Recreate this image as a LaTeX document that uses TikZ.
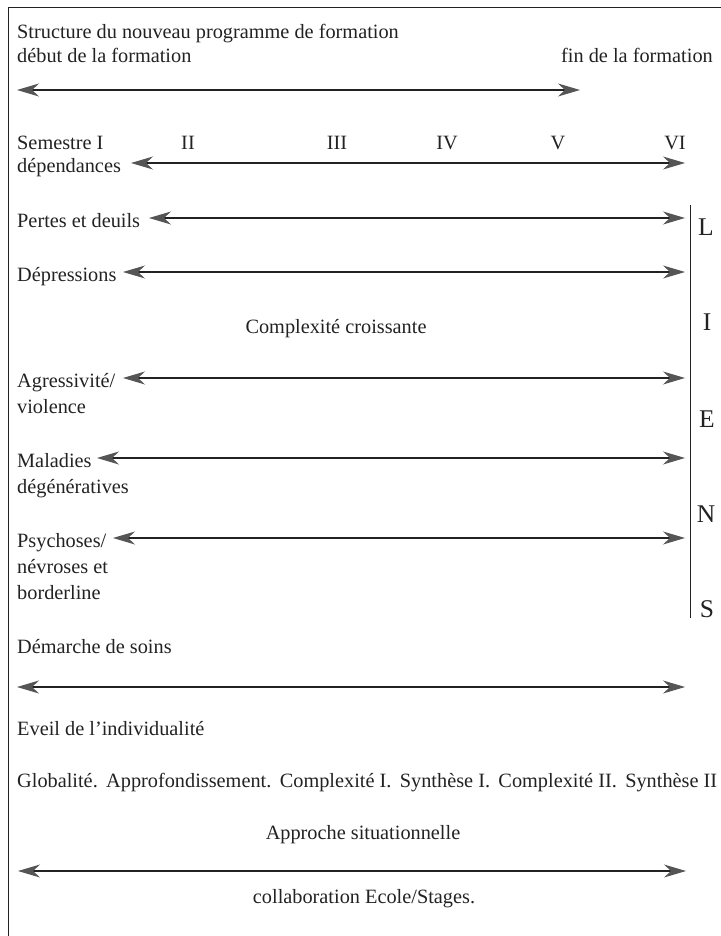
\documentclass[tikz,border=0pt]{standalone}
\usepackage{fontspec}
\setmainfont{Liberation Serif}
\usetikzlibrary{arrows.meta}
\definecolor{ink}{HTML}{222222}
\definecolor{tipgray}{HTML}{555555}
\newcommand{\gapsp}{\hspace{8.4pt}}
\begin{document}
\begin{tikzpicture}[x=1pt,y=-1pt,
  lbl/.style={anchor=base west,inner sep=0pt,text=ink,font=\fontsize{20.3}{24}\selectfont},
  lblc/.style={anchor=base,inner sep=0pt,text=ink,font=\fontsize{20.3}{24}\selectfont},
  lble/.style={anchor=base east,inner sep=0pt,text=ink,font=\fontsize{20.3}{24}\selectfont},
  liens/.style={anchor=base,inner sep=0pt,text=ink,font=\fontsize{25.5}{28}\selectfont},
  graytip/.tip={Stealth[length=22pt,width=13pt,inset=7pt,fill=tipgray,color=tipgray]},
  dbl/.style={draw=ink,line width=1.1pt,{graytip}-{graytip}},
  frame/.style={draw=ink,line width=1pt}
]
\useasboundingbox (0,0) rectangle (720,936);
% frame (cut by the picture's right and bottom edges)
\coordinate (fb) at (8,940);
\coordinate (ftl) at (8,8);
\coordinate (fr) at (725,8);
\draw[frame] (fb) -- (ftl) -- (fr);

% header
\node[lbl] (title) at (17,39) {Structure du nouveau programme de formation};
\node[lbl] (debut) at (17,63) {début de la formation};
\node[lble] (fin) at (713,63) {fin de la formation};
\coordinate (a1l) at (17,90);
\coordinate (a1r) at (580,90);
\draw[dbl] (a1l) -- (a1r);

% semesters
\node[lbl] (sem) at (17,150) {Semestre I};
\node[lblc] (s2) at (188,150) {II};
\node[lblc] (s3) at (337,150) {III};
\node[lblc] (s4) at (447,150) {IV};
\node[lblc] (s5) at (558,150) {V};
\node[lblc] (s6) at (675,150) {VI};
\node[lbl] (dep) at (17,172) {dépendances};
\coordinate (a2l) at (131,163);
\coordinate (a2r) at (685,163);
\draw[dbl] (a2l) -- (a2r);

% themes
\node[lbl] (pertes) at (17,227) {Pertes et deuils};
\coordinate (a3l) at (149,218);
\coordinate (a3r) at (685,218);
\draw[dbl] (a3l) -- (a3r);

\node[lbl] (depr) at (17,281) {Dépressions};
\coordinate (a4l) at (123,272);
\coordinate (a4r) at (685,272);
\draw[dbl] (a4l) -- (a4r);

\node[lblc] (cc) at (336,333) {Complexité croissante};

\node[lbl] (agr) at (17,387) {Agressivité/};
\node[lbl] (vio) at (17,413) {violence};
\coordinate (a5l) at (123,378);
\coordinate (a5r) at (685,378);
\draw[dbl] (a5l) -- (a5r);

\node[lbl] (mal) at (17,467) {Maladies};
\node[lbl] (deg) at (17,493) {dégénératives};
\coordinate (a6l) at (97,458);
\coordinate (a6r) at (685,458);
\draw[dbl] (a6l) -- (a6r);

\node[lbl] (psy) at (17,547) {Psychoses/};
\node[lbl] (nev) at (17,573) {névroses et};
\node[lbl] (bor) at (17,599) {borderline};
\coordinate (a7l) at (113,538);
\coordinate (a7r) at (685,538);
\draw[dbl] (a7l) -- (a7r);

% LIENS
\coordinate (lt) at (690,205);
\coordinate (lb) at (690,618);
\draw[draw=ink,line width=1pt] (lt) -- (lb);
\node[liens] (L) at (706,235) {L};
\node[liens] (I) at (707,330) {I};
\node[liens] (E) at (707,427) {E};
\node[liens] (N) at (706,522) {N};
\node[liens] (S) at (707,617) {S};

% bottom part
\node[lbl] (dem) at (17,653) {Démarche de soins};
\coordinate (a8l) at (17,687);
\coordinate (a8r) at (685,687);
\draw[dbl] (a8l) -- (a8r);
\node[lbl] (eveil) at (17,735) {Eveil de l’individualité};
\node[lbl] (glob) at (17,787) {Globalité.\gapsp Approfondissement.\gapsp Complexité I.\gapsp Synthèse I.\gapsp Complexité II.\gapsp Synthèse II};
\node[lblc] (appr) at (363,839) {Approche situationnelle};
\coordinate (a9l) at (18,871);
\coordinate (a9r) at (686,871);
\draw[dbl] (a9l) -- (a9r);
\node[lblc] (coll) at (364,903) {collaboration Ecole/Stages.};
\end{tikzpicture}
\end{document}
